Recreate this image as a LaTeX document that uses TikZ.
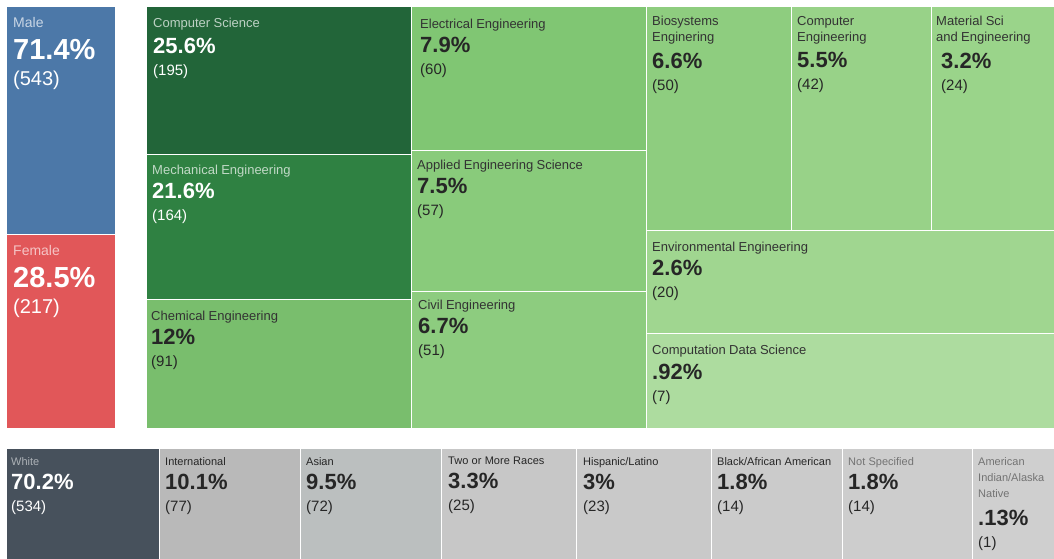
\documentclass[tikz,border=0pt]{standalone}
\usepackage{fontspec}
\setmainfont{Liberation Sans}
\usetikzlibrary{positioning}
\setlength{\parindent}{0pt}
\definecolor{male}{HTML}{4C78A8}
\definecolor{female}{HTML}{E15759}
\definecolor{cs}{HTML}{226539}
\definecolor{me}{HTML}{2F8142}
\definecolor{chem}{HTML}{79BE6D}
\definecolor{ee}{HTML}{80C673}
\definecolor{aes}{HTML}{89CB7B}
\definecolor{civil}{HTML}{8DCC7F}
\definecolor{bio}{HTML}{8ECD7F}
\definecolor{cpe}{HTML}{98D288}
\definecolor{mse}{HTML}{9AD48A}
\definecolor{env}{HTML}{A0D690}
\definecolor{cds}{HTML}{ADDC9F}
\definecolor{race}{HTML}{47515C}
\definecolor{intl}{HTML}{B9B9B9}
\definecolor{asian}{HTML}{BBBFBF}
\definecolor{multi}{HTML}{C7C7C7}
\definecolor{hisp}{HTML}{C9C9C9}
\definecolor{black1}{HTML}{CBCBCB}
\definecolor{nospec}{HTML}{CDCDCD}
\definecolor{amind}{HTML}{CFCFCF}
\newcommand{\cellname}[2][black!80]{{\color{#1}\fontsize{13}{16}\selectfont #2\par}}
\newcommand{\cellsmall}[2][black!85]{{\color{#1}\fontsize{11}{16}\selectfont #2\par}}
\newcommand{\cellpct}[2][24]{{\fontsize{22}{#1}\selectfont\bfseries #2\par}}
\newcommand{\cellcount}[1]{{\fontsize{15}{22}\selectfont #1\par}}
\newcommand{\bigpct}[1]{{\fontsize{29}{32}\selectfont\bfseries #1\par}}
\newcommand{\bigcount}[1]{{\fontsize{20}{26}\selectfont #1\par}}

\begin{document}
\begin{tikzpicture}[x=1pt, y=-1pt,
		cell/.style={draw=white, line width=1pt, anchor=north west, inner sep=0pt, outer sep=0pt},
		txt/.style={anchor=north west, inner sep=0pt, text width=230pt, align=left, text=black!85}]
				\useasboundingbox (0,0) rectangle (1054,559);
				
				\node (1) [cell, fill=male, minimum width=109pt, minimum height=227pt] at (6,7) {};
				\node (2) [cell, fill=female, minimum width=109pt, minimum height=194pt] at (6,234) {};
				\node (3) [cell, fill=cs, minimum width=265pt, minimum height=147pt] at (146,7) {};
				\node (4) [cell, fill=me, minimum width=265pt, minimum height=145pt] at (146,154) {};
				\node (5) [cell, fill=chem, minimum width=265pt, minimum height=129pt] at (146,299) {};
				\node (6) [cell, fill=ee, minimum width=235pt, minimum height=143pt] at (411,7) {};
				\node (7) [cell, fill=aes, minimum width=235pt, minimum height=141pt] at (411,150) {};
				\node (8) [cell, fill=civil, minimum width=235pt, minimum height=137pt] at (411,291) {};
				\node (9) [cell, fill=bio, minimum width=145pt, minimum height=223pt] at (646,7) {};
				\node (10) [cell, fill=cpe, minimum width=140pt, minimum height=223pt] at (791,7) {};
				\node (11) [cell, fill=mse, minimum width=129pt, minimum height=223pt] at (931,7) {};
				\node (12) [cell, fill=env, minimum width=414pt, minimum height=103pt] at (646,230) {};
				\node (13) [cell, fill=cds, minimum width=414pt, minimum height=95pt] at (646,333) {};
				
				\node (14) [cell, fill=race, minimum width=153pt, minimum height=115pt] at (6,448) {};
				\node (15) [cell, fill=intl, minimum width=141pt, minimum height=115pt] at (159,448) {};
				\node (16) [cell, fill=asian, minimum width=141pt, minimum height=115pt] at (300,448) {};
				\node (17) [cell, fill=multi, minimum width=135pt, minimum height=115pt] at (441,448) {};
				\node (18) [cell, fill=hisp, minimum width=135pt, minimum height=115pt] at (576,448) {};
				\node (19) [cell, fill=black1, minimum width=131pt, minimum height=115pt] at (711,448) {};
				\node (20) [cell, fill=nospec, minimum width=130pt, minimum height=115pt] at (842,448) {};
				\node (21) [cell, fill=amind, minimum width=95pt, minimum height=115pt] at (972,448) {};
				
				\node (1l) [txt, text=white, below right=10pt and 7pt of 1.north west] {\cellname[white!70!male]{\fontsize{14}{16}\selectfont Male}\bigpct{71.4\%}\bigcount{(543)}};
				\node (2l) [txt, text=white, below right=11pt and 7pt of 2.north west] {\cellname[white!65!female]{\fontsize{14}{16}\selectfont Female}\bigpct{28.5\%}\bigcount{(217)}};
				\node (3l) [txt, text=white, below right=11pt and 7pt of 3.north west] {\cellname[white!70!cs]{Computer Science}\cellpct[26]{25.6\%}\cellcount{(195)}};
				\node (4l) [txt, text=white, below right=11pt and 6pt of 4.north west] {\cellname[white!70!me]{Mechanical Engineering}\cellpct{21.6\%}\cellcount{(164)}};
				\node (5l) [txt, below right=12pt and 5pt of 5.north west] {\cellname{Chemical Engineering}\cellpct{12\%}\cellcount{(91)}};
				\node (6l) [txt, below right=12pt and 9pt of 6.north west] {\cellname{Electrical Engineering}\cellpct{7.9\%}\cellcount{(60)}};
				\node (7l) [txt, below right=10pt and 6pt of 7.north west] {\cellname{Applied Engineering Science}\cellpct{7.5\%}\cellcount{(57)}};
				\node (8l) [txt, below right=9pt and 7pt of 8.north west] {\cellname{Civil Engineering}\cellpct{6.7\%}\cellcount{(51)}};
				\node (9l) [txt, below right=9pt and 6pt of 9.north west] {\cellname{Biosystems\\Enginering}\cellpct[27]{6.6\%}\cellcount{(50)}};
				\node (10l) [txt, below right=9pt and 6pt of 10.north west] {\cellname{Computer\\Engineering}\cellpct[26]{5.5\%}\cellcount{(42)}};
				\node (11l) [txt, below right=9pt and 5pt of 11.north west] {\cellname{Material Sci\\and Engineering}\cellpct[27]{\hspace*{5pt}3.2\%}\cellcount{\hspace*{5pt}(24)}};
				\node (12l) [txt, below right=12pt and 6pt of 12.north west] {\cellname{Environmental Engineering}\cellpct{2.6\%}\cellcount{(20)}};
				\node (13l) [txt, below right=12pt and 6pt of 13.north west] {\cellname{Computation Data Science}\cellpct[25]{.92\%}\cellcount{(7)}};
				
				\node (14l) [txt, text=white, below right=9pt and 5pt of 14.north west] {\cellsmall[white!55!race]{White}\cellpct{70.2\%}\cellcount{(534)}};
				\node (15l) [txt, below right=9pt and 6pt of 15.north west] {\cellsmall{International}\cellpct{10.1\%}\cellcount{(77)}};
				\node (16l) [txt, below right=9pt and 6pt of 16.north west] {\cellsmall{Asian}\cellpct{9.5\%}\cellcount{(72)}};
				\node (17l) [txt, below right=9pt and 7pt of 17.north west] {\cellsmall{Two or More Races}\cellpct{3.3\%}\cellcount{(25)}};
				\node (18l) [txt, below right=9pt and 7pt of 18.north west] {\cellsmall{Hispanic/Latino}\cellpct{3\%}\cellcount{(23)}};
				\node (19l) [txt, below right=9pt and 6pt of 19.north west] {\cellsmall{Black/African American}\cellpct{1.8\%}\cellcount{(14)}};
				\node (20l) [txt, below right=9pt and 6pt of 20.north west] {\cellsmall[black!55]{Not Specified}\cellpct{1.8\%}\cellcount{(14)}};
				\node (21l) [txt, below right=9pt and 6pt of 21.north west] {\cellsmall[black!55]{American\\Indian/Alaska\\Native}\cellpct[28]{.13\%}\cellcount{(1)}};
			\end{tikzpicture}
\end{document}
